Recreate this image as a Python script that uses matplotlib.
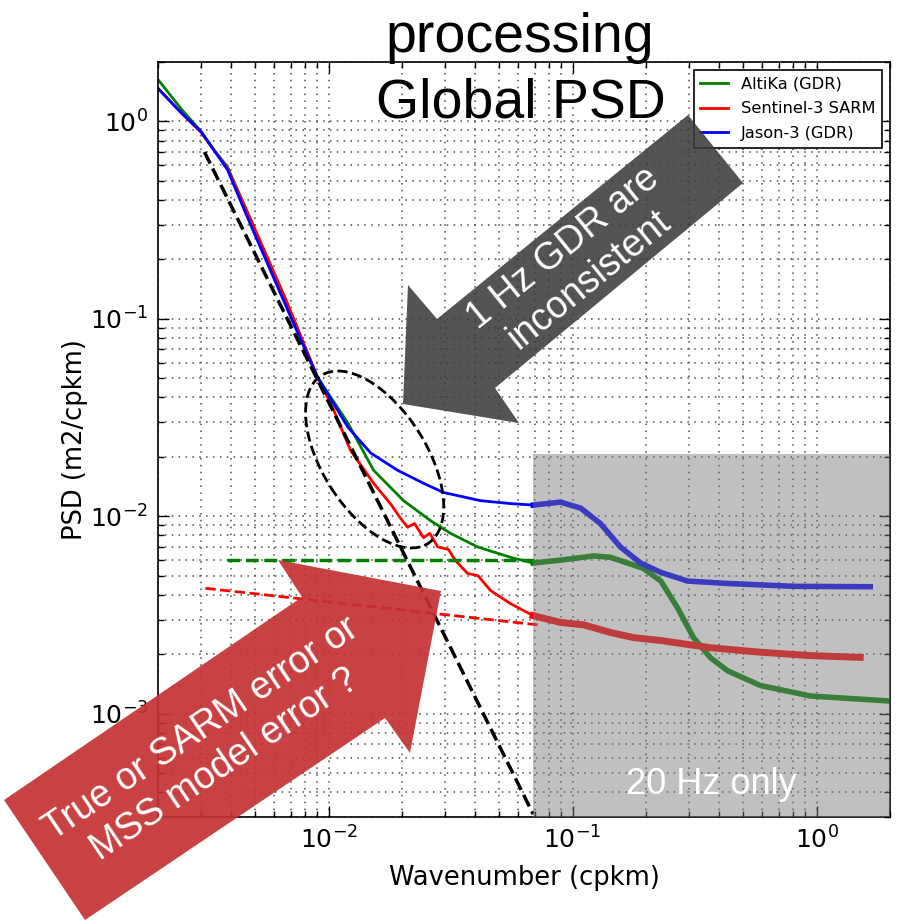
import numpy as np
import matplotlib.pyplot as plt
from matplotlib.patches import Polygon, Ellipse, Rectangle
from matplotlib.transforms import ScaledTranslation

plt.rcParams['axes.unicode_minus'] = False

# spectra (wavenumber in cpkm, PSD in m2/cpkm)
k_altika = [0.002, 0.0025, 0.003, 0.00338, 0.00385, 0.00479, 0.00698, 0.0090, 0.0120, 0.0153, 0.0203,
            0.0262, 0.0316, 0.0408, 0.0557, 0.069, 0.0893, 0.122, 0.143, 0.168, 0.195, 0.23,
            0.269, 0.313, 0.368, 0.432, 0.589, 0.944, 2.0]
psd_altika = [1.63, 1.15, 0.89, 0.72, 0.59, 0.318, 0.107, 0.0508, 0.0297, 0.0171, 0.0120,
              0.0095, 0.0082, 0.0070, 0.0062, 0.0058, 0.0060, 0.0063, 0.0062, 0.0058, 0.00545, 0.0047,
              0.00345, 0.00243, 0.00192, 0.00165, 0.00139, 0.00123, 0.00116]

k_s3 = [0.002, 0.0025, 0.003, 0.00338, 0.00385, 0.00479, 0.0066, 0.00698, 0.0090, 0.0105, 0.0123, 0.0153,
        0.0180, 0.0197, 0.0211, 0.0225, 0.0245, 0.026, 0.028, 0.031, 0.033, 0.0371, 0.041, 0.0461,
        0.0557, 0.069, 0.0893, 0.111, 0.143, 0.178, 0.23, 0.285, 0.368, 0.589, 0.944, 1.51]
psd_s3 = [1.47, 1.1, 0.88, 0.72, 0.58, 0.32, 0.13, 0.11, 0.0508, 0.0345, 0.0216, 0.0147,
          0.0115, 0.0098, 0.0088, 0.0092, 0.0078, 0.0082, 0.0070, 0.0068, 0.0060, 0.00514, 0.0050, 0.00421,
          0.00361, 0.00314, 0.0029, 0.00282, 0.00258, 0.00243, 0.00235, 0.00226, 0.00216, 0.00205, 0.00197,
          0.00193]

k_jason = [0.002, 0.0025, 0.003, 0.00338, 0.00385, 0.00479, 0.00698, 0.0090, 0.0120, 0.0149, 0.0192,
           0.0245, 0.0296, 0.042, 0.0557, 0.069, 0.0893, 0.108, 0.130, 0.157, 0.19, 0.23, 0.296,
           0.432, 0.805, 1.66]
psd_jason = [1.47, 1.1, 0.89, 0.72, 0.57, 0.30, 0.103, 0.0508, 0.0283, 0.0209, 0.0171,
             0.0147, 0.0132, 0.0120, 0.0116, 0.0114, 0.0118, 0.0110, 0.0092, 0.0070, 0.0058, 0.0052, 0.0047,
             0.00457, 0.00442, 0.0044]

# reference slopes / noise levels (dashed)
k_slope = [0.0031, 0.069]
psd_slope = [0.70, 3.1e-4]
k_noise_altika = [0.00385, 0.07]
psd_noise_altika = [0.006, 0.006]
k_noise_s3 = [0.00313, 0.072]
psd_noise_s3 = [0.00432, 0.00282]

k_20hz = 0.069   # start of the 20 Hz only band
psd_20hz_top = 0.0207

series = [(k_altika, psd_altika, 'g', 'AltiKa (GDR)', 4.0),
          (k_s3, psd_s3, 'r', 'Sentinel-3 SARM', 5.0),
          (k_jason, psd_jason, 'b', 'Jason-3 (GDR)', 4.0)]

W, H = 899, 923
fig = plt.figure(figsize=(W / 100, H / 100), dpi=100)
ax = fig.add_axes([158 / W, 1 - 817 / H, 732 / W, 755 / H])

for k, p, c, lab, band in series:
    k = np.array(k)
    p = np.array(p)
    ax.plot(k, p, color=c, lw=2, label=lab, zorder=2)
    hf = k >= k_20hz
    ax.plot(k[hf], p[hf], color=c, lw=band, zorder=2, solid_joinstyle='round')

ax.plot(k_slope, psd_slope, 'k--', lw=2.5, zorder=2)
ax.plot(k_noise_altika, psd_noise_altika, '--', color='g', lw=2.5, zorder=2)
ax.plot(k_noise_s3, psd_noise_s3, 'r--', lw=2, zorder=2)

ax.set_xscale('log')
ax.set_yscale('log')
ax.set_xlim(0.002, 2)
ax.set_ylim(3e-4, 2)

# grey veil over the 20 Hz part
ax.add_patch(Rectangle((k_20hz, 3e-4), 2 - k_20hz, psd_20hz_top - 3e-4,
                       facecolor=(0.49, 0.49, 0.49), alpha=0.48, edgecolor='none', zorder=3))

ax.set_axisbelow(True)
ax.grid(True, which='both', color='0.3', linestyle=(0, (1, 3.5)), linewidth=1.1)
ax.tick_params(which='both', direction='in', top=True, right=True, width=1)
ax.tick_params(which='major', length=8, labelsize=18, pad=7)
ax.tick_params(which='minor', length=4)
for s in ax.spines.values():
    s.set_linewidth(1.2)

ax.set_xlabel('Wavenumber (cpkm)', fontsize=18.5, labelpad=8)
ax.set_ylabel('PSD (m2/cpkm)', fontsize=18.5, labelpad=1)

leg = ax.legend(loc='upper right', fontsize=11.7, fancybox=False, edgecolor='k',
                framealpha=1, handlelength=1.7, borderaxespad=0.5, labelspacing=0.6)
leg.get_frame().set_linewidth(1.2)

# ellipse around the 1 Hz divergence
ell = Ellipse((0, 0), 1.99, 1.04, angle=-57.6, fill=False, ls='--', lw=2, ec='k',
              transform=fig.dpi_scale_trans + ScaledTranslation(0.01545, 0.0194, ax.transData))
fig.add_artist(ell)


def px(points):
    return [(x / W, 1 - y / H) for x, y in points]


grey_arrow = Polygon(px([(688, 115), (437, 319), (408, 285), (403, 404), (519, 423), (495, 388), (743, 183)]),
                     closed=True, transform=fig.transFigure, facecolor='#3c3c3c', alpha=0.88,
                     edgecolor='none', zorder=5)
red_arrow = Polygon(px([(441, 591), (278, 560), (302, 597), (4, 800), (85, 920), (385, 718), (410, 753)]),
                    closed=True, transform=fig.transFigure, facecolor='#c43234', alpha=0.92,
                    edgecolor='none', zorder=5)
fig.add_artist(grey_arrow)
fig.add_artist(red_arrow)

sans = 'Liberation Sans'
fig.text(520 / W, 1 - 52 / H, 'processing', ha='center', va='baseline', fontsize=40, family=sans, zorder=6)
fig.text(521 / W, 1 - 117 / H, 'Global PSD', ha='center', va='baseline', fontsize=40, family=sans, zorder=6)
fig.text(576 / W, 1 - 264 / H, '1 Hz GDR are\ninconsistent', rotation=39, rotation_mode='anchor',
         ha='center', va='center', multialignment='center', color='white', fontsize=27, family=sans, zorder=6)
fig.text(213 / W, 1 - 747 / H, 'True or SARM error or\nMSS model error ?', rotation=34, rotation_mode='anchor',
         ha='center', va='center', multialignment='center', color='white', fontsize=27, family=sans,
         linespacing=1.25, zorder=6)
fig.text(711 / W, 1 - 785 / H, '20 Hz only', ha='center', va='center', color='white', fontsize=26,
         family=sans, zorder=6)

fig.savefig('out.png', dpi=100)
